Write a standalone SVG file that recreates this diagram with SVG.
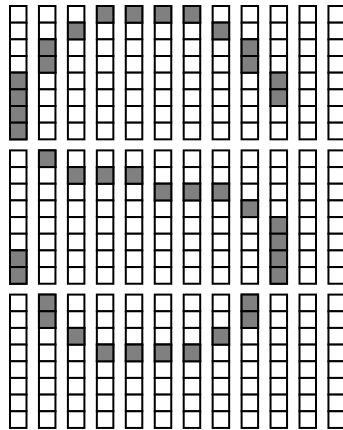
<svg xmlns="http://www.w3.org/2000/svg" xmlns:xlink="http://www.w3.org/1999/xlink" width="343" height="430" viewBox="0 0 343 430">
<style>
.c{fill:#ffffff;stroke:#000000;stroke-width:2}
.f{fill:#808080;stroke:#000000;stroke-width:2}
</style>
<defs>
<g id="col">
<rect class="c" x="0" y="0" width="16.5" height="16.667"/>
<rect class="c" x="0" y="16.667" width="16.5" height="16.667"/>
<rect class="c" x="0" y="33.333" width="16.5" height="16.667"/>
<rect class="c" x="0" y="50" width="16.5" height="16.667"/>
<rect class="c" x="0" y="66.667" width="16.5" height="16.667"/>
<rect class="c" x="0" y="83.333" width="16.5" height="16.667"/>
<rect class="c" x="0" y="100" width="16.5" height="16.667"/>
<rect class="c" x="0" y="116.667" width="16.5" height="16.667"/>
</g>
<g id="grid">
<use xlink:href="#col" x="10"/>
<use xlink:href="#col" x="38.95"/>
<use xlink:href="#col" x="67.9"/>
<use xlink:href="#col" x="96.85"/>
<use xlink:href="#col" x="125.8"/>
<use xlink:href="#col" x="154.75"/>
<use xlink:href="#col" x="183.7"/>
<use xlink:href="#col" x="212.65"/>
<use xlink:href="#col" x="241.6"/>
<use xlink:href="#col" x="270.55"/>
<use xlink:href="#col" x="299.5"/>
<use xlink:href="#col" x="328.45"/>
</g>
</defs>
<g id="block1" transform="translate(0,6)">
<use xlink:href="#grid"/>
<rect class="f" x="10" y="66.667" width="16.5" height="16.667"/>
<rect class="f" x="10" y="83.333" width="16.5" height="16.667"/>
<rect class="f" x="10" y="100" width="16.5" height="16.667"/>
<rect class="f" x="10" y="116.667" width="16.5" height="16.667"/>
<rect class="f" x="38.95" y="33.333" width="16.5" height="16.667"/>
<rect class="f" x="38.95" y="50" width="16.5" height="16.667"/>
<rect class="f" x="67.9" y="16.667" width="16.5" height="16.667"/>
<rect class="f" x="96.85" y="0" width="16.5" height="16.667"/>
<rect class="f" x="125.8" y="0" width="16.5" height="16.667"/>
<rect class="f" x="154.75" y="0" width="16.5" height="16.667"/>
<rect class="f" x="183.7" y="0" width="16.5" height="16.667"/>
<rect class="f" x="212.65" y="16.667" width="16.5" height="16.667"/>
<rect class="f" x="241.6" y="33.333" width="16.5" height="16.667"/>
<rect class="f" x="241.6" y="50" width="16.5" height="16.667"/>
<rect class="f" x="270.55" y="66.667" width="16.5" height="16.667"/>
<rect class="f" x="270.55" y="83.333" width="16.5" height="16.667"/>
</g>
<g id="block2" transform="translate(0,150.4)">
<use xlink:href="#grid"/>
<rect class="f" x="10" y="100" width="16.5" height="16.667"/>
<rect class="f" x="10" y="116.667" width="16.5" height="16.667"/>
<rect class="f" x="38.95" y="0" width="16.5" height="16.667"/>
<rect class="f" x="67.9" y="16.667" width="16.5" height="16.667"/>
<rect class="f" x="96.85" y="16.667" width="16.5" height="16.667"/>
<rect class="f" x="125.8" y="16.667" width="16.5" height="16.667"/>
<rect class="f" x="154.75" y="33.333" width="16.5" height="16.667"/>
<rect class="f" x="183.7" y="33.333" width="16.5" height="16.667"/>
<rect class="f" x="212.65" y="33.333" width="16.5" height="16.667"/>
<rect class="f" x="241.6" y="50" width="16.5" height="16.667"/>
<rect class="f" x="270.55" y="66.667" width="16.5" height="16.667"/>
<rect class="f" x="270.55" y="83.333" width="16.5" height="16.667"/>
<rect class="f" x="270.55" y="100" width="16.5" height="16.667"/>
<rect class="f" x="270.55" y="116.667" width="16.5" height="16.667"/>
</g>
<g id="block3" transform="translate(0,294.6)">
<use xlink:href="#grid"/>
<rect class="f" x="38.95" y="0" width="16.5" height="16.667"/>
<rect class="f" x="38.95" y="16.667" width="16.5" height="16.667"/>
<rect class="f" x="67.9" y="33.333" width="16.5" height="16.667"/>
<rect class="f" x="96.85" y="50" width="16.5" height="16.667"/>
<rect class="f" x="125.8" y="50" width="16.5" height="16.667"/>
<rect class="f" x="154.75" y="50" width="16.5" height="16.667"/>
<rect class="f" x="183.7" y="50" width="16.5" height="16.667"/>
<rect class="f" x="212.65" y="33.333" width="16.5" height="16.667"/>
<rect class="f" x="241.6" y="0" width="16.5" height="16.667"/>
<rect class="f" x="241.6" y="16.667" width="16.5" height="16.667"/>
</g>
</svg>
